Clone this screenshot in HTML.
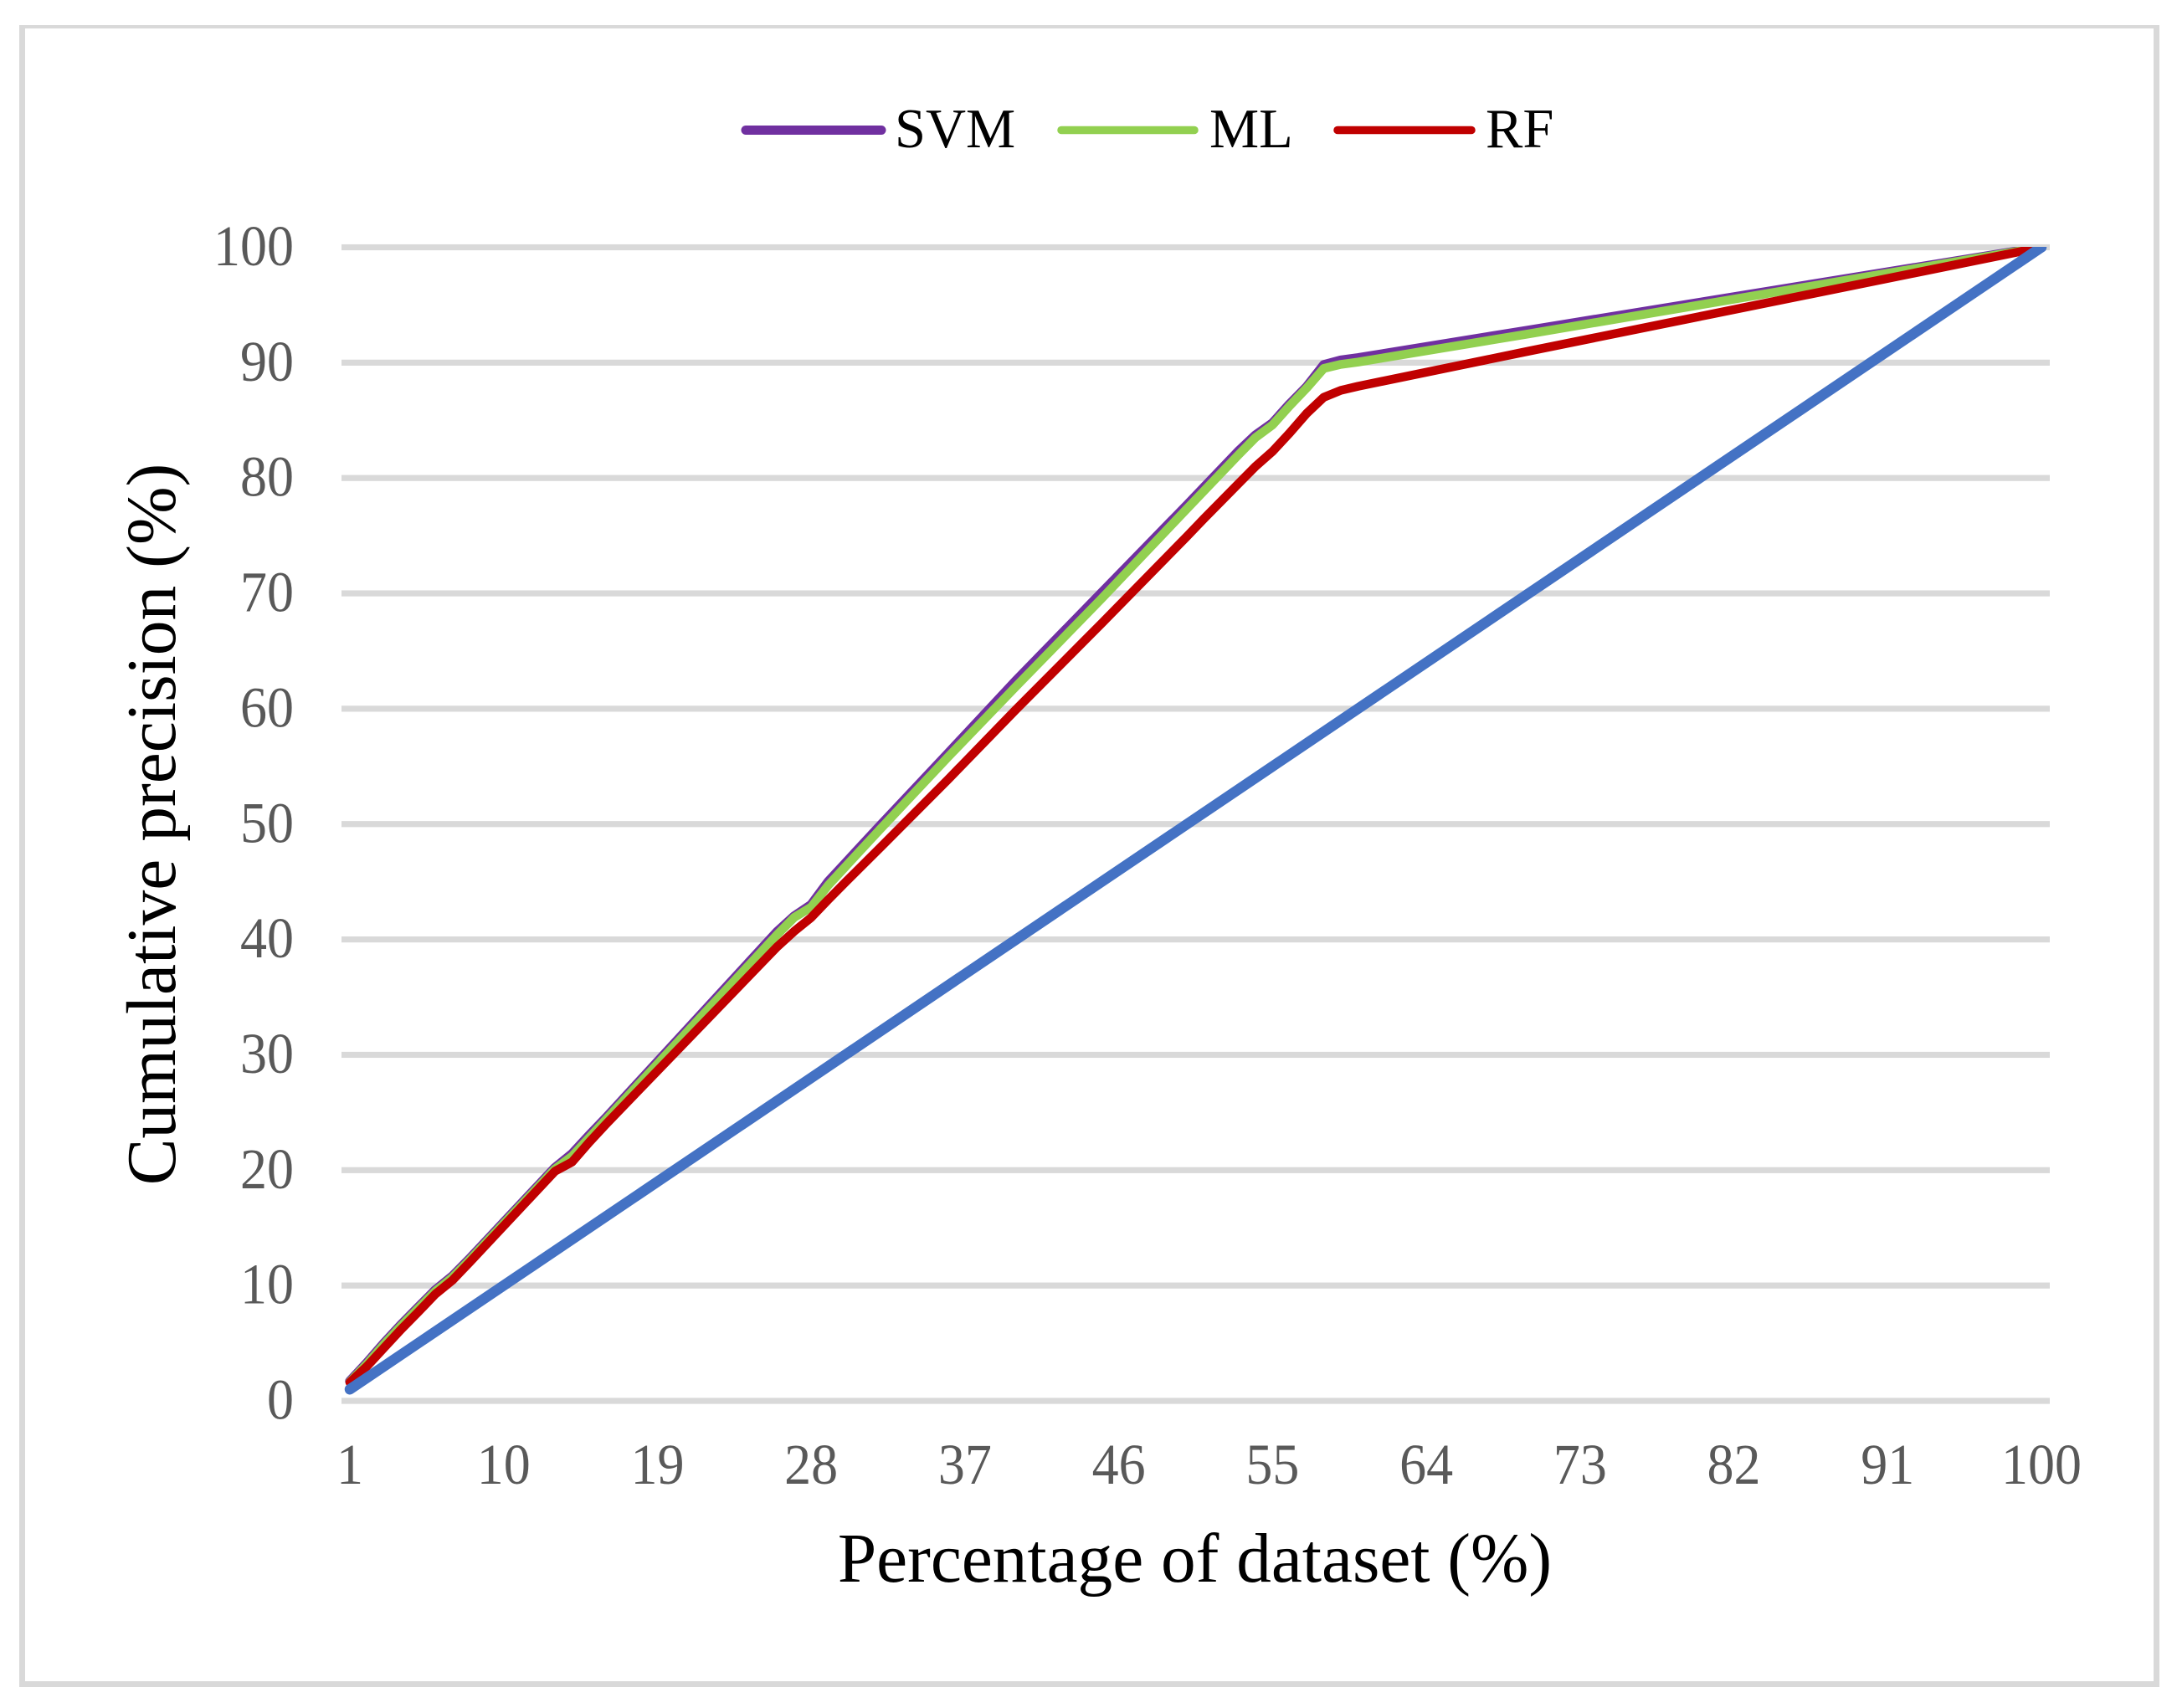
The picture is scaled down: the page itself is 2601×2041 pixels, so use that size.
<!DOCTYPE html>
<html lang="en">
<head>
<meta charset="utf-8">
<title>Cumulative precision chart</title>
<style>
html,body{margin:0;padding:0;background:#fff;}
svg{display:block;}
text{font-family:"Liberation Serif",serif;}
</style>
</head>
<body>
<svg id="chart" xmlns="http://www.w3.org/2000/svg" width="2601" height="2041" viewBox="0 0 2601 2041">
  <rect x="0" y="0" width="2601" height="2041" fill="#ffffff"/>
  <g fill="#d9d9d9">
    <rect x="23" y="30" width="2557" height="4"/>
    <rect x="23" y="30" width="7" height="1986"/>
    <rect x="2573" y="30" width="7" height="1986"/>
    <rect x="23" y="2009" width="2557" height="7"/>
  </g>
  <defs>
    <clipPath id="plot-clip"><rect x="408" y="295" width="2041" height="1385"/></clipPath>
  </defs>
  <g id="grid"></g>
  <g id="y-ticks"></g>
  <g id="x-ticks"></g>
  <g id="series" clip-path="url(#plot-clip)"></g>

  <g>
    <g>
      <line x1="891" y1="155.5" x2="1053" y2="155.5" stroke="#7030a0" stroke-width="11" stroke-linecap="round"/>
      <text x="1069" y="176" font-size="66.5" fill="#000000">SVM</text>
    </g>
    <g>
      <line x1="1268" y1="155.5" x2="1427" y2="155.5" stroke="#92d050" stroke-width="9.5" stroke-linecap="round"/>
      <text x="1445" y="176" font-size="66.5" fill="#000000">ML</text>
    </g>
    <g>
      <line x1="1598" y1="155.5" x2="1758" y2="155.5" stroke="#c00000" stroke-width="9.5" stroke-linecap="round"/>
      <text x="1775" y="176" font-size="66.5" fill="#000000">RF</text>
    </g>
  </g>

  <text x="1427.5" y="1890" font-size="83.3" fill="#000000" text-anchor="middle">Percentage of dataset (%)</text>
  <text transform="translate(209 985) rotate(-90)" font-size="83.5" fill="#000000" text-anchor="middle">Cumulative precision (%)</text>
</svg>

<script>
var xTickLabels = [1, 10, 19, 28, 37, 46, 55, 64, 73, 82, 91, 100];
var yTickLabels = [0, 10, 20, 30, 40, 50, 60, 70, 80, 90, 100];

var percentages = [1, 2, 3, 4, 5, 6, 7, 8, 13, 14, 15, 16, 26, 27, 28, 29, 30, 32, 36, 40, 45, 50, 51, 52, 53, 54, 55, 56, 57, 58, 59, 60, 70, 80, 90, 100];
var svmValues = [1.7, 3.3, 5.0, 6.6, 8.1, 9.6, 10.8, 12.3, 20.2, 21.4, 23.0, 24.55, 40.65, 42.0, 43.0, 45.0, 46.6, 49.8, 56.1, 62.45, 70.05, 77.65, 79.2, 80.75, 82.3, 83.7, 84.75, 86.4, 87.9, 89.8, 90.2, 90.4, 92.8, 95.2, 97.6, 100];
var mlValues = [1.65, 3.2, 4.9, 6.5, 8.0, 9.5, 10.7, 12.2, 20.1, 21.2, 22.8, 24.4, 40.4, 41.9, 42.8, 44.7, 46.3, 49.5, 55.8, 61.95, 69.55, 77.35, 78.9, 80.45, 82.0, 83.5, 84.6, 86.25, 87.8, 89.5, 89.85, 90.05, 92.5, 95.0, 97.5, 100];
var rfValues = [1.6, 3.0, 4.6, 6.2, 7.7, 9.25, 10.45, 12.0, 19.9, 20.7, 22.4, 24.0, 39.35, 40.7, 41.9, 43.45, 44.95, 47.9, 53.85, 59.95, 67.4, 74.95, 76.5, 78.0, 79.5, 81.0, 82.3, 83.9, 85.6, 87.0, 87.6, 87.95, 91.0, 94.0, 97.0, 100];
var baselinePercentages = [1, 100];
var baselineValues = [1, 100];

var SVG_NS = 'http://www.w3.org/2000/svg';
var plotLeft = 408, plotRight = 2449;
var digitAdvance = 32;

function xScale(p) { return 418 + (p - 1) * (2439 - 418) / 99; }
function yScale(v) { return 1674 - v * (1674 - 295.5) / 100; }

function drawGrid() {
  var g = document.getElementById('grid');
  yTickLabels.forEach(function (v) {
    var r = document.createElementNS(SVG_NS, 'rect');
    
    
    r.setAttribute('x', plotLeft);
    r.setAttribute('y', yScale(v) - 3.6);
    r.setAttribute('width', plotRight - plotLeft);
    r.setAttribute('height', 7.2);
    r.setAttribute('fill', '#d9d9d9');
    g.appendChild(r);
  });
}

function drawYTicks() {
  var g = document.getElementById('y-ticks');
  yTickLabels.forEach(function (v) {
    var t = document.createElementNS(SVG_NS, 'text');
    
    
    t.setAttribute('x', 351);
    t.setAttribute('y', yScale(v) + 21.5);
    t.setAttribute('font-size', 69);
    t.setAttribute('fill', '#595959');
    t.setAttribute('text-anchor', 'end');
    t.setAttribute('textLength', String(v).length * digitAdvance);
    t.setAttribute('lengthAdjust', 'spacingAndGlyphs');
    t.textContent = v;
    g.appendChild(t);
  });
}

function drawXTicks() {
  var g = document.getElementById('x-ticks');
  xTickLabels.forEach(function (p) {
    var t = document.createElementNS(SVG_NS, 'text');
    
    
    t.setAttribute('x', xScale(p));
    t.setAttribute('y', 1773);
    t.setAttribute('font-size', 69);
    t.setAttribute('fill', '#595959');
    t.setAttribute('text-anchor', 'middle');
    t.setAttribute('textLength', String(p).length * digitAdvance);
    t.setAttribute('lengthAdjust', 'spacingAndGlyphs');
    t.textContent = p;
    g.appendChild(t);
  });
}

function pointsFor(xs, ys) {
  return xs.map(function (p, i) {
    return xScale(p).toFixed(2) + ',' + yScale(ys[i]).toFixed(2);
  }).join(' ');
}

function addLine(name, xs, ys, color, width) {
  var g = document.getElementById('series');
  var l = document.createElementNS(SVG_NS, 'polyline');
  
  
  l.setAttribute('points', pointsFor(xs, ys));
  l.setAttribute('fill', 'none');
  l.setAttribute('stroke', color);
  l.setAttribute('stroke-width', width);
  l.setAttribute('stroke-linecap', 'round');
  l.setAttribute('stroke-linejoin', 'round');
  g.appendChild(l);
}

drawGrid();
drawYTicks();
drawXTicks();
addLine('line-svm', percentages, svmValues, '#7030a0', 11.5);
addLine('line-ml', percentages, mlValues, '#92d050', 10.5);
addLine('line-rf', percentages, rfValues, '#c00000', 10.5);
addLine('line-baseline', baselinePercentages, baselineValues, '#4472c4', 12.5);
</script>
</body>
</html>
